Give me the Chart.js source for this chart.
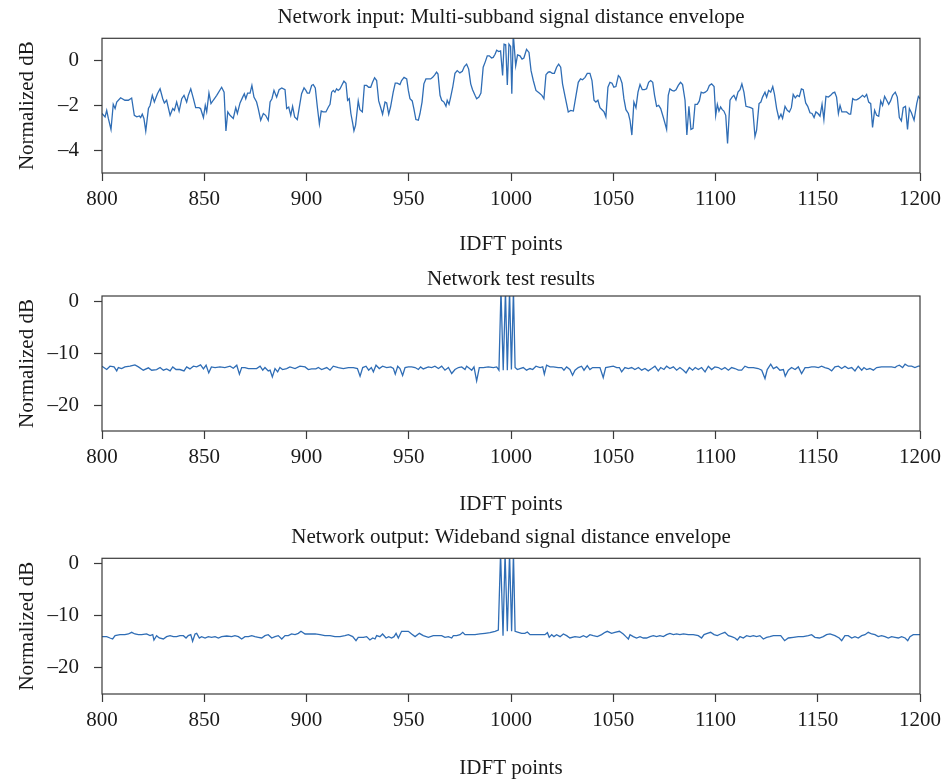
<!DOCTYPE html>
<html>
<head>
<meta charset="utf-8">
<script src="https://cdn.jsdelivr.net/npm/chart.js@4.4.0/dist/chart.umd.min.js"></script>
<style>
    body { margin: 0; background: #fff; width: 944px; height: 782px; overflow: hidden; position: relative; }
    canvas { position: absolute; left: 0; }
</style>
</head>
<body>
<canvas id="inputChart" width="944" height="261" style="top:0px"></canvas>
<canvas id="testChart" width="944" height="261" style="top:258px"></canvas>
<canvas id="outputChart" width="944" height="262" style="top:520px"></canvas>
<script>
// Valores (pontos IDFT e dB normalizado)

const xTicks = [800, 850, 900, 950, 1000, 1050, 1100, 1150, 1200];
const inputYTicks = [-4, -2, 0];
const dbYTicks = [-20, -10, 0];

const inputX = [
    800.0, 801.5, 802.3, 803.1, 804.4, 805.5, 806.4, 807.2, 809.1, 811.2,
    812.9, 814.5, 815.8, 817.0, 818.3, 818.9, 819.7, 820.5, 821.4, 822.7,
    823.5, 824.6, 825.6, 827.1, 828.4, 829.7, 830.5, 831.6, 833.3, 834.6,
    835.4, 836.5, 837.7, 839.0, 840.1, 841.4, 842.2, 843.4, 844.7, 845.8,
    847.4, 848.2, 849.6, 850.5, 851.2, 852.3, 853.3, 854.4, 856.1, 858.5,
    859.7, 860.6, 861.5, 862.6, 864.2, 865.4, 866.2, 867.5, 868.8, 869.6,
    870.3, 871.2, 872.4, 873.3, 874.3, 875.6, 876.4, 877.6, 878.9, 880.0,
    881.3, 882.2, 883.1, 884.1, 885.4, 886.6, 887.9, 889.5, 890.3, 891.3,
    892.3, 893.2, 894.2, 895.5, 896.8, 897.6, 898.8, 899.7, 900.4, 901.4,
    902.5, 903.3, 904.3, 905.3, 906.3, 907.2, 908.2, 909.5, 910.7, 911.5,
    912.3, 913.1, 913.9, 914.7, 915.5, 916.4, 917.2, 918.3, 919.3, 920.1,
    920.9, 921.7, 922.6, 923.2, 924.0, 925.3, 926.1, 927.3, 928.3, 929.4,
    930.4, 931.4, 932.3, 933.3, 934.3, 935.3, 936.2, 937.2, 938.4, 939.2,
    940.2, 941.1, 942.4, 943.4, 944.4, 945.7, 946.5, 947.7, 949.0, 949.8,
    950.6, 951.7, 952.5, 953.5, 954.7, 955.5, 956.5, 957.4, 958.4, 959.6,
    960.7, 961.7, 962.7, 963.6, 964.3, 965.3, 966.1, 967.2, 968.2, 968.8,
    969.7, 970.5, 971.5, 972.6, 973.7, 975.0, 976.2, 977.2, 978.3, 979.3,
    980.3, 981.2, 982.4, 983.2, 984.3, 985.3, 986.4, 987.4, 988.4, 989.4,
    990.5, 991.3, 992.2, 993.0, 994.0, 994.9, 995.9, 996.6, 997.4, 998.2,
    999.0, 999.8, 1000.4, 1001.1, 1002.3, 1003.2, 1004.4, 1005.4, 1006.3, 1007.6,
    1008.8, 1009.8, 1010.9, 1012.2, 1013.8, 1015.1, 1016.1, 1017.1, 1018.2, 1019.0,
    1020.2, 1021.2, 1022.3, 1023.3, 1024.3, 1025.2, 1026.5, 1028.0, 1029.2, 1030.5,
    1031.8, 1032.9, 1034.0, 1035.0, 1036.2, 1037.3, 1038.6, 1039.6, 1040.6, 1041.5,
    1042.5, 1043.5, 1044.5, 1045.5, 1046.4, 1047.4, 1048.4, 1049.4, 1050.3, 1051.3,
    1052.5, 1053.3, 1054.3, 1055.2, 1056.2, 1057.4, 1058.2, 1059.1, 1060.1, 1061.1,
    1062.1, 1063.1, 1064.2, 1065.3, 1066.3, 1067.3, 1068.3, 1069.3, 1070.2, 1071.2,
    1072.2, 1073.2, 1074.5, 1075.3, 1076.1, 1076.9, 1077.7, 1078.7, 1079.7, 1080.7,
    1081.8, 1082.9, 1083.9, 1085.1, 1086.0, 1087.0, 1088.0, 1089.0, 1090.0, 1091.1,
    1092.1, 1093.0, 1094.0, 1095.0, 1096.0, 1097.0, 1098.1, 1099.3, 1100.1, 1100.9,
    1101.7, 1102.5, 1103.3, 1104.1, 1105.0, 1105.9, 1107.1, 1108.1, 1109.0, 1110.0,
    1111.0, 1112.0, 1112.9, 1113.9, 1114.9, 1116.0, 1117.2, 1118.2, 1119.3, 1120.1,
    1121.3, 1122.2, 1123.0, 1124.2, 1125.0, 1126.0, 1127.0, 1128.0, 1128.8, 1129.9,
    1131.0, 1132.0, 1132.8, 1134.0, 1135.1, 1136.1, 1137.1, 1138.0, 1139.0, 1140.0,
    1141.0, 1142.0, 1142.9, 1144.1, 1145.1, 1146.2, 1147.2, 1148.2, 1149.1, 1150.1,
    1151.1, 1152.1, 1153.0, 1154.0, 1155.2, 1156.3, 1157.3, 1158.3, 1159.2, 1160.1,
    1160.9, 1161.8, 1162.8, 1164.1, 1165.4, 1166.1, 1167.1, 1168.0, 1169.0, 1170.0,
    1171.0, 1171.9, 1172.9, 1173.9, 1174.9, 1175.9, 1176.8, 1177.8, 1178.8, 1179.8,
    1180.8, 1181.7, 1182.7, 1183.7, 1184.7, 1185.6, 1186.6, 1187.9, 1188.9, 1189.9,
    1190.9, 1191.8, 1192.9, 1193.9, 1194.8, 1195.8, 1197.1, 1198.4, 1199.2, 1200.0
];
const inputDb = [
    -2.35, -2.50, -2.21, -2.57, -3.06, -1.94, -2.13, -1.84, -1.65, -1.76,
    -1.76, -1.66, -2.43, -2.50, -2.46, -2.53, -2.38, -2.57, -3.13, -2.13,
    -1.99, -1.54, -1.84, -1.47, -1.25, -1.69, -1.88, -1.76, -2.43, -2.13,
    -2.21, -1.84, -2.25, -1.69, -1.54, -1.84, -1.54, -1.25, -1.69, -2.09,
    -2.09, -2.13, -2.53, -1.99, -2.28, -1.44, -1.91, -1.76, -1.54, -1.18,
    -1.40, -3.13, -2.28, -2.43, -2.57, -2.09, -2.35, -1.88, -1.62, -1.47,
    -1.69, -1.44, -1.44, -1.10, -1.62, -1.84, -2.13, -2.65, -2.35, -2.43,
    -2.65, -1.84, -1.69, -1.32, -1.62, -1.29, -1.21, -1.29, -2.13, -2.06,
    -2.43, -2.03, -2.50, -2.62, -1.90, -1.47, -1.21, -1.32, -1.44, -1.44,
    -1.10, -1.06, -1.21, -2.06, -2.82, -2.24, -2.28, -2.28, -2.06, -1.94,
    -1.40, -1.32, -1.40, -1.25, -1.32, -1.25, -1.10, -0.91, -1.00, -1.76,
    -1.69, -2.35, -2.79, -3.12, -2.87, -1.79, -2.18, -2.28, -1.10, -1.10,
    -1.18, -1.18, -0.96, -0.76, -0.88, -1.79, -2.06, -2.38, -1.84, -1.88,
    -2.38, -2.06, -1.40, -1.00, -1.00, -1.06, -0.88, -0.74, -0.81, -1.32,
    -1.69, -1.79, -2.13, -2.62, -2.65, -2.35, -1.84, -1.03, -0.81, -0.81,
    -0.81, -0.74, -0.63, -0.51, -0.59, -1.54, -1.76, -1.84, -2.03, -1.76,
    -1.94, -1.62, -1.18, -0.56, -0.44, -0.54, -0.47, -0.26, -0.15, -0.37,
    -1.03, -1.29, -1.54, -1.69, -1.62, -1.44, -0.29, -0.05, 0.22, 0.22,
    0.12, 0.15, 0.29, 0.47, 0.41, 0.44, -0.66, 0.74, 0.71, -1.08,
    0.74, 0.64, -1.47, 1.20, -0.22, 0.26, 0.22, 0.07, 0.12, 0.51,
    0.37, -0.44, -0.88, -1.32, -1.44, -1.54, -1.69, -0.62, -0.51, -0.49,
    -0.56, -0.56, -0.29, -0.15, -0.29, -1.03, -1.62, -2.28, -2.21, -2.24,
    -1.54, -0.96, -0.81, -0.85, -0.74, -0.56, -0.56, -0.88, -1.76, -1.84,
    -1.76, -2.09, -2.18, -2.28, -2.50, -1.18, -0.96, -1.00, -1.18, -1.15,
    -0.66, -0.74, -1.00, -1.69, -2.18, -2.35, -2.65, -3.31, -1.84, -2.09,
    -1.40, -1.06, -1.29, -1.29, -1.25, -0.96, -0.88, -0.96, -1.54, -2.03,
    -1.99, -2.13, -2.53, -2.79, -3.06, -1.54, -1.25, -1.32, -1.35, -1.29,
    -1.10, -0.96, -1.06, -1.76, -3.31, -2.03, -3.06, -3.01, -1.94, -1.94,
    -1.79, -1.40, -1.44, -1.40, -1.32, -1.10, -1.03, -1.15, -2.43, -1.94,
    -2.24, -2.06, -2.18, -2.24, -2.43, -3.68, -1.76, -1.62, -1.54, -1.74,
    -1.40, -1.29, -1.03, -1.40, -2.03, -2.06, -2.09, -2.13, -3.38, -3.09,
    -1.91, -1.84, -1.62, -1.40, -1.62, -1.32, -1.40, -1.15, -1.47, -2.13,
    -2.57, -2.38, -2.57, -2.03, -2.21, -2.28, -2.09, -1.50, -1.65, -1.54,
    -1.59, -1.25, -1.29, -1.88, -2.03, -2.32, -2.35, -2.53, -2.28, -2.35,
    -2.47, -1.94, -2.62, -1.59, -1.62, -1.54, -1.44, -1.40, -1.62, -2.35,
    -1.99, -2.28, -2.28, -2.28, -2.38, -2.38, -1.69, -1.74, -1.74, -1.69,
    -1.62, -1.54, -1.62, -1.50, -1.84, -1.91, -2.97, -2.21, -2.43, -2.47,
    -1.79, -1.99, -1.59, -1.76, -1.94, -1.79, -1.54, -1.40, -1.62, -2.53,
    -2.68, -2.09, -2.03, -3.06, -2.13, -2.32, -2.65, -1.91, -1.59, -1.69
];

const testX = [
    800.0, 802.3, 803.9, 805.9, 807.2, 808.0, 809.6, 811.2, 813.7, 816.1,
    817.8, 820.2, 822.7, 824.3, 826.7, 828.4, 830.0, 831.6, 833.3, 834.6,
    836.2, 838.1, 840.1, 841.4, 843.0, 844.7, 846.3, 848.2, 849.6, 850.9,
    852.2, 853.5, 855.3, 857.7, 860.1, 862.6, 864.2, 865.9, 867.2, 868.3,
    869.9, 871.6, 873.2, 875.6, 877.3, 878.6, 879.7, 881.3, 882.2, 883.3,
    884.6, 885.9, 887.0, 888.3, 890.3, 891.9, 894.4, 896.8, 899.3, 900.9,
    902.5, 904.6, 905.8, 907.4, 909.9, 911.5, 913.1, 915.6, 918.0, 920.5,
    922.9, 924.9, 926.2, 927.5, 929.1, 930.4, 931.7, 932.7, 934.0, 935.6,
    937.2, 939.2, 941.2, 942.5, 943.4, 944.6, 945.7, 947.0, 948.2, 949.8,
    951.4, 953.1, 954.7, 955.8, 957.1, 959.6, 961.2, 962.8, 964.5, 966.1,
    967.7, 969.4, 971.0, 972.6, 974.3, 975.9, 977.5, 978.3, 979.6, 980.8,
    981.9, 983.2, 984.5, 986.5, 988.9, 991.4, 993.0, 994.1, 995.1, 996.2,
    997.3, 998.2, 999.3, 1000.2, 1001.2, 1002.0, 1003.1, 1004.4, 1006.0, 1007.6,
    1009.3, 1010.6, 1012.2, 1014.2, 1015.5, 1016.3, 1017.4, 1019.1, 1020.7, 1023.1,
    1024.8, 1025.9, 1027.2, 1028.8, 1030.1, 1031.3, 1032.9, 1034.5, 1035.7, 1037.3,
    1038.6, 1039.9, 1041.9, 1043.5, 1045.1, 1046.3, 1048.1, 1050.0, 1051.7, 1053.0,
    1054.1, 1055.7, 1057.4, 1059.0, 1060.6, 1062.3, 1063.9, 1065.5, 1067.1, 1068.8,
    1070.4, 1072.0, 1073.2, 1074.8, 1076.1, 1077.7, 1079.4, 1081.0, 1082.6, 1084.3,
    1085.6, 1087.2, 1088.8, 1090.1, 1091.6, 1093.2, 1094.9, 1096.5, 1098.1, 1099.7,
    1101.4, 1103.0, 1104.6, 1106.3, 1107.9, 1109.5, 1111.2, 1112.8, 1114.4, 1116.0,
    1118.5, 1120.9, 1122.6, 1124.2, 1125.3, 1127.0, 1128.3, 1129.9, 1131.5, 1133.2,
    1134.1, 1135.6, 1137.2, 1138.9, 1140.5, 1142.1, 1143.8, 1145.4, 1147.0, 1148.6,
    1150.3, 1151.9, 1153.5, 1155.2, 1156.8, 1158.4, 1160.1, 1161.7, 1163.3, 1164.9,
    1166.6, 1168.2, 1169.8, 1171.5, 1172.6, 1173.9, 1175.5, 1177.2, 1178.8, 1181.2,
    1183.7, 1186.1, 1187.8, 1188.6, 1189.9, 1191.5, 1192.7, 1194.3, 1195.9, 1197.5,
    1199.2, 1200.0
];
const testDb = [
    -12.52, -13.16, -12.52, -12.65, -13.42, -12.78, -12.97, -12.65, -12.52, -12.27,
    -12.65, -13.29, -12.84, -13.29, -13.16, -12.78, -13.29, -13.04, -13.42, -12.65,
    -13.16, -13.16, -13.42, -12.65, -13.04, -12.52, -12.65, -12.27, -13.04, -12.33,
    -13.80, -12.65, -12.78, -12.65, -12.78, -12.52, -12.91, -12.33, -14.06, -12.78,
    -12.78, -12.97, -12.97, -12.97, -12.52, -13.29, -12.78, -13.42, -13.29, -14.57,
    -12.97, -13.61, -12.78, -13.16, -12.97, -12.65, -12.97, -12.52, -12.65, -13.16,
    -13.04, -13.04, -12.78, -13.16, -12.78, -13.29, -12.52, -12.78, -12.97, -12.78,
    -12.78, -12.97, -14.44, -12.78, -12.52, -13.29, -12.78, -13.61, -12.33, -12.97,
    -12.52, -12.78, -12.65, -12.97, -14.06, -12.52, -12.97, -14.31, -12.78, -12.65,
    -12.65, -12.78, -13.16, -12.65, -13.04, -12.65, -12.78, -12.52, -12.97, -12.52,
    -13.29, -12.78, -13.93, -13.16, -12.78, -12.65, -13.16, -12.52, -12.91, -13.29,
    -12.65, -15.34, -12.78, -12.78, -12.65, -12.78, -12.65, -13.29, 2.00, -13.30,
    2.00, -13.30, 2.00, -13.16, 2.00, -12.78, -13.16, -12.97, -12.78, -13.29,
    -12.97, -13.16, -12.52, -12.78, -12.65, -14.06, -12.33, -12.65, -12.65, -12.78,
    -12.78, -13.29, -12.65, -13.16, -14.25, -13.29, -12.78, -12.52, -13.29, -12.40,
    -13.16, -12.78, -12.78, -12.78, -14.70, -12.78, -12.65, -12.52, -12.78, -12.78,
    -13.61, -12.78, -12.97, -12.78, -13.16, -12.78, -13.29, -12.97, -13.42, -12.97,
    -12.52, -13.42, -12.78, -13.16, -12.52, -12.97, -12.65, -13.29, -12.78, -13.29,
    -13.80, -12.78, -13.29, -12.78, -13.16, -12.78, -13.61, -12.52, -13.16, -12.65,
    -12.78, -13.16, -12.78, -13.29, -12.78, -12.97, -13.29, -13.29, -12.52, -12.78,
    -12.78, -12.97, -13.29, -14.89, -13.16, -12.14, -12.97, -12.65, -13.29, -13.16,
    -14.44, -13.29, -12.78, -13.16, -12.65, -13.93, -12.78, -12.78, -12.65, -12.65,
    -12.78, -12.52, -12.78, -12.97, -13.42, -12.65, -12.52, -12.97, -12.52, -12.97,
    -12.78, -13.42, -12.52, -13.29, -12.78, -13.16, -12.97, -13.29, -12.78, -12.65,
    -12.65, -12.65, -12.78, -12.52, -12.33, -12.78, -12.14, -12.52, -12.52, -12.78,
    -12.52, -12.52
];

const outputX = [
    800.0, 802.3, 803.9, 805.2, 806.4, 808.8, 811.2, 812.9, 814.5, 816.1,
    817.8, 819.4, 821.8, 823.5, 824.8, 825.4, 826.7, 828.0, 830.0, 831.6,
    833.3, 834.9, 836.5, 838.1, 839.8, 841.1, 842.2, 843.4, 844.3, 845.5,
    846.3, 847.6, 848.7, 850.4, 852.0, 853.6, 855.3, 856.9, 858.5, 861.0,
    863.4, 865.0, 866.7, 868.3, 869.9, 871.6, 873.2, 874.8, 876.4, 878.1,
    879.7, 881.3, 883.0, 884.6, 886.2, 887.9, 889.5, 891.1, 892.7, 894.4,
    896.0, 897.3, 899.3, 901.7, 904.2, 906.6, 909.0, 911.5, 913.9, 916.4,
    918.8, 920.5, 922.6, 924.2, 925.3, 927.8, 929.4, 931.0, 932.4, 933.5,
    934.3, 935.9, 937.2, 938.9, 940.2, 941.6, 942.8, 943.8, 944.9, 946.5,
    948.2, 949.8, 951.4, 953.1, 955.2, 957.1, 959.6, 962.0, 964.5, 966.1,
    967.7, 969.4, 971.0, 971.8, 973.4, 975.1, 976.4, 977.5, 979.1, 980.8,
    982.4, 984.8, 987.3, 989.7, 992.2, 993.8, 994.9, 996.1, 997.1, 998.2,
    999.3, 1000.3, 1001.2, 1002.0, 1003.6, 1005.2, 1006.8, 1008.0, 1009.3, 1011.7,
    1014.2, 1016.6, 1017.8, 1018.7, 1019.9, 1021.0, 1022.3, 1024.0, 1025.6, 1027.2,
    1028.8, 1031.3, 1033.7, 1035.4, 1037.0, 1038.6, 1040.2, 1042.2, 1044.3, 1046.0,
    1047.1, 1049.2, 1050.8, 1053.0, 1054.9, 1056.2, 1057.4, 1058.2, 1059.8, 1061.4,
    1063.1, 1064.7, 1066.3, 1068.0, 1069.6, 1071.2, 1072.8, 1074.5, 1076.1, 1077.7,
    1079.4, 1081.0, 1082.6, 1084.3, 1086.7, 1089.1, 1091.6, 1093.2, 1094.4, 1096.0,
    1097.6, 1099.3, 1100.9, 1102.5, 1104.6, 1106.3, 1107.9, 1109.5, 1110.7, 1112.0,
    1113.6, 1115.2, 1116.9, 1118.5, 1120.1, 1121.7, 1123.4, 1125.0, 1126.6, 1128.3,
    1129.9, 1131.9, 1133.8, 1135.6, 1138.1, 1140.5, 1142.9, 1145.4, 1147.0, 1148.6,
    1150.8, 1152.7, 1154.3, 1156.0, 1158.4, 1160.5, 1161.7, 1163.3, 1164.9, 1166.6,
    1168.2, 1169.8, 1171.5, 1173.1, 1174.7, 1176.4, 1178.0, 1179.6, 1181.2, 1182.9,
    1184.5, 1186.1, 1187.8, 1189.4, 1191.0, 1192.7, 1194.0, 1195.1, 1196.7, 1198.4,
    1200.0
];
const outputDb = [
    -14.01, -14.01, -14.27, -14.46, -13.82, -13.63, -13.63, -13.50, -13.18, -13.50,
    -13.63, -13.63, -13.50, -13.82, -13.63, -14.65, -13.82, -14.27, -14.46, -14.01,
    -13.82, -14.01, -14.01, -13.82, -13.82, -14.27, -13.82, -13.63, -14.90, -13.50,
    -13.38, -14.27, -14.01, -14.27, -14.01, -14.14, -14.01, -14.27, -14.01, -13.89,
    -14.01, -13.82, -14.01, -14.46, -14.01, -14.01, -13.82, -14.01, -14.14, -14.27,
    -13.82, -13.63, -14.27, -14.01, -13.82, -14.46, -13.82, -13.82, -13.50, -13.63,
    -13.38, -12.99, -13.50, -13.50, -13.50, -13.63, -13.82, -13.82, -14.01, -14.01,
    -13.82, -13.63, -14.01, -14.78, -14.14, -14.14, -14.01, -14.65, -14.27, -14.46,
    -13.82, -14.01, -13.50, -14.27, -14.01, -14.27, -14.01, -13.38, -14.27, -12.99,
    -12.99, -12.99, -13.50, -14.01, -13.38, -13.82, -14.14, -13.82, -13.82, -13.82,
    -14.14, -14.01, -14.27, -13.82, -13.82, -13.63, -13.18, -13.63, -13.63, -13.63,
    -13.63, -13.50, -13.38, -13.25, -12.99, -12.74, 2.00, -13.82, 2.00, -12.99,
    2.00, -12.99, 2.00, -12.99, -13.18, -13.38, -13.38, -13.12, -13.63, -13.63,
    -13.63, -13.63, -13.25, -14.14, -13.63, -14.01, -13.63, -14.01, -13.50, -13.82,
    -14.27, -14.01, -14.14, -13.82, -14.14, -13.63, -13.82, -14.01, -13.63, -13.18,
    -12.99, -13.38, -13.18, -12.99, -13.50, -14.01, -14.46, -13.63, -14.01, -14.27,
    -14.01, -14.27, -14.27, -14.01, -13.82, -14.01, -13.82, -14.01, -13.63, -13.38,
    -13.63, -13.50, -13.63, -13.50, -13.63, -13.63, -13.82, -14.27, -13.63, -13.38,
    -13.18, -13.63, -13.82, -13.50, -13.18, -13.82, -14.01, -14.27, -14.65, -14.01,
    -14.27, -13.82, -14.01, -13.82, -14.01, -13.82, -14.46, -14.14, -14.01, -13.82,
    -13.82, -13.82, -14.78, -14.27, -14.14, -14.01, -14.01, -13.82, -13.63, -14.14,
    -14.27, -14.01, -13.63, -13.50, -13.82, -14.27, -14.78, -13.82, -13.82, -14.27,
    -14.01, -14.27, -13.82, -13.63, -13.18, -13.50, -13.63, -14.01, -13.82, -14.01,
    -14.27, -14.01, -14.14, -14.27, -14.01, -14.27, -14.78, -14.01, -13.63, -13.63,
    -13.63
];

const lineColor = '#2f6db5';
const textColor = '#1a1a1a';
const frameColor = '#3a3a3a';
const serif = "'Liberation Serif', 'Times New Roman', serif";

Chart.defaults.font.family = serif;
Chart.defaults.color = textColor;

// moldura completa em volta da área do gráfico
const framePlugin = {
    id: 'frame',
    afterDatasetsDraw(chart) {
        const { ctx, chartArea: a } = chart;
        ctx.save();
        ctx.strokeStyle = frameColor;
        ctx.lineWidth = 1.2;
        ctx.strokeRect(a.left, a.top, a.right - a.left, a.bottom - a.top);
        ctx.restore();
    }
};

const tickGrid = { display: true, drawOnChartArea: false, drawTicks: true, tickLength: 8, tickColor: frameColor, tickWidth: 1.2 };
const fmt = v => String(v).replace('-', '\u2013');

const makePanel = (id, title, xs, ys, yMin, yTicks, titlePad, xTitlePad) => {
    const points = xs.map((x, i) => ({ x: x, y: ys[i] }));
    new Chart(document.getElementById(id), {
        type: 'line',
        data: { datasets: [{ data: points, borderColor: lineColor, borderWidth: 1.3, pointRadius: 0, tension: 0, fill: false }] },
        options: {
            responsive: false, animation: false, events: [],
            layout: { padding: { top: 0, right: 24, bottom: 0, left: 0 } },
            plugins: {
                legend: { display: false },
                tooltip: { enabled: false },
                title: { display: true, fullSize: false, text: title, color: textColor, font: { size: 21, weight: 'normal' }, padding: titlePad }
            },
            scales: {
                x: {
                    type: 'linear', min: 800, max: 1200,
                    afterBuildTicks: s => { s.ticks = xTicks.map(v => ({ value: v })); },
                    afterFit: s => { s.height = 88; s.paddingLeft = 0; s.paddingRight = 0; },
                    grid: tickGrid, border: { display: false },
                    ticks: { color: textColor, font: { size: 21 }, padding: 6, maxRotation: 0, callback: fmt },
                    title: { display: true, text: 'IDFT points', color: textColor, font: { size: 21 }, padding: { top: 0, bottom: xTitlePad } }
                },
                y: {
                    min: yMin, max: 1,
                    afterBuildTicks: s => { s.ticks = yTicks.map(v => ({ value: v })); },
                    afterFit: s => { s.width = 102; },
                    grid: tickGrid, border: { display: false },
                    ticks: { color: textColor, font: { size: 21 }, padding: 15, callback: fmt },
                    title: { display: true, text: 'Normalized dB', color: textColor, font: { size: 21 }, padding: { top: 14.4, bottom: 0 } }
                }
            }
        },
        plugins: [framePlugin]
    });
};

makePanel('inputChart', 'Network input: Multi-subband signal distance envelope', inputX, inputDb, -5, inputYTicks, { top: 4.4, bottom: 8.7 }, 4.4);
makePanel('testChart', 'Network test results', testX, testDb, -25, dbYTicks, { top: 8.4, bottom: 4.4 }, 2.4);
makePanel('outputChart', 'Network output: Wideband signal distance envelope', outputX, outputDb, -25, dbYTicks, { top: 4.4, bottom: 8.7 }, 1.4);
</script>
</body>
</html>
